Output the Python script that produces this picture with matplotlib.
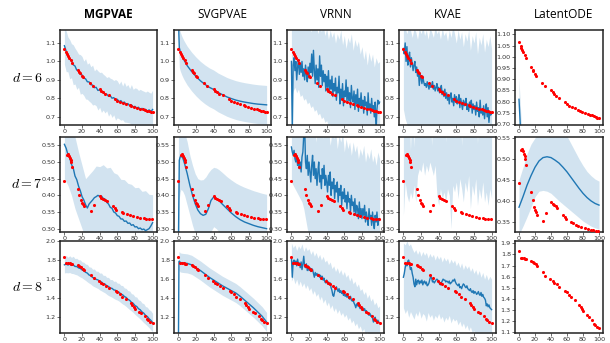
import numpy as np
import matplotlib
matplotlib.use("Agg")
import matplotlib.pyplot as plt

plt.rcParams["mathtext.fontset"] = "cm"

BLUE = "#1f77b4"
METHODS = ["MGPVAE", "SVGPVAE", "VRNN", "KVAE", "LatentODE"]
ROW_LABELS = [r"$d = 6$", r"$d = 7$", r"$d = 8$"]

T1 = np.arange(0, 101)       # dense time grid (noisy models)
T2 = np.arange(0, 101, 2)    # coarse time grid

# ---------------- ground truth (red dots) ----------------
GT6_T = [0, 2, 3, 4, 5, 7, 9, 15, 17, 18, 20, 21, 29, 32, 40, 42, 44, 46, 50,
         57, 60, 63, 66, 70, 74, 76, 79, 82, 86, 89, 91, 94, 96, 98, 100]
GT6_Y = [1.067, 1.05, 1.04, 1.03, 1.02, 1.01, 0.993, 0.954, 0.942, 0.935,
         0.922, 0.916, 0.884, 0.869, 0.851, 0.841, 0.832, 0.826, 0.817,
         0.796, 0.788, 0.782, 0.776, 0.769, 0.762, 0.758, 0.754, 0.750,
         0.745, 0.741, 0.738, 0.734, 0.731, 0.728, 0.725]

GT7_T = [0, 3, 4, 5, 6, 7, 8, 9, 15, 17, 19, 20, 21, 22, 30, 34, 40, 42, 44,
         46, 48, 55, 57, 59, 65, 67, 71, 74, 78, 82, 86, 90, 93, 96, 99]
GT7_Y = [0.443, 0.522, 0.524, 0.518, 0.512, 0.506, 0.500, 0.486, 0.420,
         0.402, 0.386, 0.378, 0.373, 0.367, 0.352, 0.372, 0.397, 0.393,
         0.390, 0.387, 0.384, 0.367, 0.362, 0.356, 0.350, 0.347, 0.343,
         0.340, 0.337, 0.335, 0.333, 0.331, 0.330, 0.329, 0.329]

GT8_T = [0, 2, 4, 6, 8, 9, 15, 17, 19, 21, 22, 30, 33, 39, 42, 44, 47, 50,
         58, 60, 63, 65, 70, 75, 77, 79, 80, 85, 87, 91, 94, 95, 97, 100]
GT8_Y = [1.827, 1.77, 1.766, 1.764, 1.763, 1.76, 1.745, 1.735, 1.725, 1.71,
         1.695, 1.64, 1.61, 1.58, 1.56, 1.545, 1.53, 1.51, 1.475, 1.465,
         1.44, 1.415, 1.39, 1.35, 1.33, 1.31, 1.29, 1.255, 1.24, 1.21,
         1.18, 1.17, 1.15, 1.14]

# ---------------- d = 6 ----------------
MGP6_MEAN = [1.085, 1.055, 1.038, 1.012, 1.004, 0.982, 0.975, 0.953, 0.950, 0.930,
             0.927, 0.909, 0.906, 0.890, 0.889, 0.874, 0.872, 0.858, 0.860, 0.843,
             0.846, 0.833, 0.834, 0.822, 0.823, 0.811, 0.814, 0.801, 0.804, 0.792,
             0.795, 0.783, 0.788, 0.776, 0.780, 0.768, 0.772, 0.760, 0.765, 0.754,
             0.757, 0.748, 0.752, 0.741, 0.746, 0.736, 0.741, 0.730, 0.738, 0.728,
             0.740]
MGP6_STD = [0.100, 0.110, 0.094, 0.106, 0.092, 0.108, 0.097, 0.104, 0.090, 0.107,
            0.100, 0.093, 0.109, 0.095, 0.104, 0.097, 0.108, 0.091, 0.100, 0.106,
            0.094, 0.109, 0.097, 0.101, 0.090, 0.107, 0.095, 0.104, 0.093, 0.110,
            0.100, 0.094, 0.106, 0.091, 0.108, 0.097, 0.103, 0.093, 0.110, 0.095,
            0.100, 0.106, 0.091, 0.108, 0.097, 0.103, 0.093, 0.110, 0.095, 0.100,
            0.104]

SVGP6_T = [0, 0.5, 1, 2, 4, 6, 8, 10, 15, 20, 25, 30, 35, 40, 45, 50, 55, 60,
           65, 70, 75, 80, 85, 90, 95, 100]
SVGP6_MEAN = [1.5, 1.15, 1.075, 1.055, 1.03, 1.01, 0.993, 0.977, 0.945, 0.918,
              0.895, 0.876, 0.86, 0.848, 0.832, 0.82, 0.808, 0.799, 0.791, 0.785,
              0.780, 0.776, 0.772, 0.769, 0.767, 0.765]
SVGP6_STD = [0.105] * 26

VRNN6_MEAN = [1.00, 0.62, 0.98, 1.02, 0.95, 1.00, 0.90, 0.97, 1.01, 0.93,
              0.99, 0.94, 1.00, 0.92, 0.96, 0.90, 0.98, 0.93, 0.89, 0.97,
              0.91, 0.99, 0.94, 1.04, 0.92, 1.06, 0.95, 0.88, 0.98, 0.90,
              0.96, 0.86, 1.03, 0.92, 0.98, 0.87, 0.95, 0.89, 0.93, 0.84,
              0.92, 0.86, 0.95, 0.83, 0.90, 0.85, 0.92, 0.81, 0.88, 0.84,
              0.91, 0.79, 0.86, 0.83, 0.92, 0.77, 0.85, 0.80, 0.88, 0.76,
              0.84, 0.81, 0.90, 0.78, 0.86, 0.79, 0.83, 0.75, 0.87, 0.80,
              0.78, 0.84, 0.74, 0.82, 0.77, 0.85, 0.73, 0.80, 0.76, 0.83,
              0.75, 0.79, 0.72, 0.81, 0.76, 0.78, 0.71, 0.83, 0.74, 0.77,
              0.72, 0.80, 0.73, 0.76, 0.70, 0.78, 0.62, 0.74, 0.79, 0.77,
              0.78]
VRNN6_HI = [1.25, 1.22, 1.24, 1.20, 1.23, 1.19, 1.22, 1.18, 1.21, 1.17,
            1.20, 1.16, 1.19, 1.17, 1.21, 1.15, 1.19, 1.16, 1.20, 1.14,
            1.18, 1.12, 1.17, 1.13, 1.16, 1.10, 1.15, 1.12, 1.17, 1.09,
            1.14, 1.07, 1.13, 1.10, 1.15, 1.06, 1.12, 1.08, 1.11, 1.04,
            1.08, 1.01, 1.06, 0.98, 1.05, 1.00, 1.04, 0.97, 1.02, 0.99,
            1.00]
VRNN6_LO = [0.80, 0.84, 0.86, 0.83, 0.85, 0.81, 0.82, 0.79, 0.80, 0.77,
            0.78, 0.75, 0.76, 0.73, 0.74, 0.71, 0.72, 0.69, 0.70, 0.67,
            0.68, 0.65, 0.66, 0.63, 0.64, 0.62, 0.62, 0.60, 0.61, 0.59,
            0.60, 0.58, 0.59, 0.57, 0.58, 0.56, 0.57, 0.55, 0.56, 0.54,
            0.55, 0.53, 0.54, 0.52, 0.53, 0.51, 0.52, 0.50, 0.51, 0.49,
            0.50]

KVAE6_MEAN = [1.07, 1.04, 1.10, 1.00, 1.08, 0.98, 1.03, 1.05, 0.97, 1.02,
              0.99, 0.95, 0.98, 1.00, 0.94, 0.97, 0.92, 0.95, 0.87, 0.93,
              0.91, 0.88, 0.92, 0.89, 0.87, 0.88, 0.86, 0.89, 0.87, 0.85,
              0.88, 0.86, 0.87, 0.89, 0.85, 0.87, 0.84, 0.86, 0.88, 0.84,
              0.86, 0.83, 0.85, 0.87, 0.82, 0.84, 0.81, 0.85, 0.80, 0.83,
              0.79, 0.82, 0.77, 0.81, 0.83, 0.78, 0.80, 0.76, 0.82, 0.78,
              0.81, 0.77, 0.79, 0.82, 0.75, 0.80, 0.77, 0.74, 0.79, 0.76,
              0.78, 0.80, 0.74, 0.77, 0.73, 0.78, 0.75, 0.79, 0.72, 0.77,
              0.74, 0.76, 0.71, 0.78, 0.73, 0.75, 0.70, 0.79, 0.72, 0.74,
              0.71, 0.76, 0.69, 0.74, 0.77, 0.70, 0.75, 0.67, 0.73, 0.71,
              0.72]
KVAE6_HI = [1.20, 1.18, 1.15, 1.19, 1.17, 1.13, 1.18, 1.16, 1.12, 1.18,
            1.15, 1.19, 1.14, 1.17, 1.12, 1.18, 1.16, 1.13, 1.19, 1.15,
            1.17, 1.12, 1.18, 1.14, 1.16, 1.11, 1.17, 1.13, 1.19, 1.15,
            1.10, 1.17, 1.12, 1.16, 1.08, 1.15, 1.11, 1.17, 1.06, 1.14,
            1.10, 1.16, 1.04, 1.13, 1.09, 1.15, 1.05, 1.12, 1.08, 1.14,
            1.07]
KVAE6_LO = [0.74, 0.69, 0.66, 0.63, 0.62, 0.60, 0.61, 0.59, 0.60, 0.58,
            0.59, 0.57, 0.58, 0.56, 0.57, 0.55, 0.56, 0.54, 0.55, 0.53,
            0.54, 0.52, 0.53, 0.51, 0.52, 0.50, 0.51, 0.49, 0.50, 0.48,
            0.49, 0.47, 0.48, 0.46, 0.47, 0.45, 0.46, 0.44, 0.45, 0.43,
            0.44, 0.42, 0.43, 0.41, 0.42, 0.40, 0.41, 0.39, 0.40, 0.38,
            0.39]

ODE6_T = [0, 1, 2, 3]
ODE6_MEAN = [0.81, 0.74, 0.67, 0.60]
ODE6_HI = [0.905, 0.83, 0.76, 0.69]
ODE6_LO = [0.715, 0.65, 0.58, 0.51]

# ---------------- d = 7 ----------------
MGP7_MEAN = [0.553, 0.541, 0.522, 0.512, 0.493, 0.482, 0.458, 0.447, 0.428, 0.414,
             0.396, 0.386, 0.372, 0.362, 0.374, 0.380, 0.386, 0.393, 0.396, 0.400,
             0.397, 0.398, 0.391, 0.389, 0.379, 0.374, 0.364, 0.361, 0.350, 0.347,
             0.339, 0.337, 0.329, 0.329, 0.322, 0.323, 0.316, 0.317, 0.310, 0.312,
             0.305, 0.306, 0.300, 0.302, 0.297, 0.299, 0.294, 0.297, 0.300, 0.308,
             0.318]
MGP7_BT = list(range(0, 101, 4))
MGP7_HI = [0.66, 0.63, 0.60, 0.575, 0.53, 0.49, 0.45, 0.462, 0.474, 0.488,
           0.486, 0.492, 0.482, 0.484, 0.468, 0.463, 0.448, 0.447, 0.436, 0.433,
           0.423, 0.424, 0.412, 0.414, 0.403, 0.402]
MGP7_LO = [0.45, 0.43, 0.40, 0.36, 0.33, 0.30, 0.27, 0.27, 0.28, 0.29,
           0.29, 0.29, 0.28, 0.27, 0.26, 0.25, 0.24, 0.24, 0.23, 0.22,
           0.22, 0.21, 0.21, 0.20, 0.20, 0.21]

SVGP7_T = [0, 1, 2, 3, 5, 7, 10, 13, 16, 19, 22, 25, 28, 31, 34, 37, 40, 43,
           46, 50, 55, 60, 65, 70, 75, 80, 85, 90, 95, 100]
SVGP7_MEAN = [0.25, 0.505, 0.515, 0.518, 0.512, 0.495, 0.465, 0.43, 0.40, 0.375,
              0.356, 0.345, 0.340, 0.343, 0.360, 0.385, 0.395, 0.391, 0.384, 0.373,
              0.360, 0.347, 0.336, 0.327, 0.320, 0.315, 0.310, 0.306, 0.303, 0.300]
SVGP7_STD = [0.35, 0.115, 0.105, 0.100, 0.100, 0.095, 0.095, 0.090, 0.090, 0.090,
             0.094, 0.101, 0.107, 0.112, 0.108, 0.093, 0.089, 0.091, 0.093, 0.095,
             0.096, 0.099, 0.101, 0.103, 0.104, 0.104, 0.104, 0.104, 0.103, 0.103]

VRNN7_MEAN = [0.545, 0.53, 0.52, 0.535, 0.51, 0.50, 0.52, 0.49, 0.505, 0.48,
              0.50, 0.47, 0.515, 0.53, 0.58, 0.61, 0.50, 0.48, 0.52, 0.46,
              0.50, 0.47, 0.44, 0.49, 0.52, 0.46, 0.50, 0.45, 0.48, 0.43,
              0.47, 0.50, 0.44, 0.46, 0.42, 0.48, 0.45, 0.49, 0.43, 0.46,
              0.44, 0.41, 0.46, 0.43, 0.47, 0.40, 0.44, 0.42, 0.45, 0.39,
              0.43, 0.41, 0.44, 0.38, 0.42, 0.40, 0.43, 0.37, 0.41, 0.39,
              0.42, 0.38, 0.40, 0.36, 0.41, 0.38, 0.39, 0.35, 0.40, 0.37,
              0.38, 0.35, 0.39, 0.34, 0.37, 0.36, 0.33, 0.38, 0.34, 0.36,
              0.33, 0.36, 0.34, 0.37, 0.32, 0.35, 0.33, 0.31, 0.36, 0.33,
              0.34, 0.31, 0.35, 0.32, 0.30, 0.34, 0.32, 0.35, 0.31, 0.33,
              0.325]
VRNN7_HI = [0.64, 0.66, 0.62, 0.65, 0.63, 0.66, 0.64, 0.62, 0.65, 0.63,
            0.61, 0.64, 0.59, 0.63, 0.56, 0.62, 0.60, 0.63, 0.57, 0.61,
            0.58, 0.60, 0.55, 0.59, 0.57, 0.60, 0.54, 0.58, 0.56, 0.59,
            0.53, 0.57, 0.54, 0.56, 0.52, 0.56, 0.53, 0.55, 0.51, 0.54,
            0.52, 0.55, 0.50, 0.53, 0.51, 0.54, 0.50, 0.52, 0.49, 0.53,
            0.51]
VRNN7_LO = [0.44, 0.43, 0.42, 0.41, 0.40, 0.39, 0.38, 0.36, 0.33, 0.30,
            0.28, 0.27, 0.27, 0.26, 0.26, 0.25, 0.25, 0.24, 0.24, 0.23,
            0.23, 0.22, 0.22, 0.21, 0.21, 0.20, 0.20, 0.20, 0.19, 0.19,
            0.19, 0.18, 0.18, 0.18, 0.17, 0.17, 0.17, 0.16, 0.16, 0.16,
            0.15, 0.15, 0.15, 0.15, 0.14, 0.14, 0.14, 0.14, 0.13, 0.13,
            0.13]

# KVAE mean for d=7 lies above the plotted range
KVAE7_MEAN = [0.61, 0.60, 0.62, 0.61, 0.60, 0.62, 0.61, 0.63, 0.60, 0.62,
              0.61, 0.62, 0.60, 0.61, 0.63, 0.62, 0.60, 0.61, 0.62, 0.60,
              0.61, 0.63, 0.62, 0.60, 0.61, 0.62, 0.60, 0.61, 0.63, 0.62,
              0.60, 0.61, 0.62, 0.60, 0.61, 0.63, 0.62, 0.60, 0.61, 0.62,
              0.60, 0.61, 0.63, 0.62, 0.60, 0.61, 0.62, 0.60, 0.61, 0.63,
              0.62]
KVAE7_HI = [0.72, 0.70, 0.68, 0.71, 0.535, 0.69, 0.545, 0.70, 0.68, 0.71,
            0.69, 0.72, 0.70, 0.68, 0.71, 0.69, 0.55, 0.70, 0.72, 0.69,
            0.71, 0.68, 0.70, 0.72, 0.56, 0.69, 0.71, 0.70, 0.68, 0.72,
            0.70, 0.69, 0.71, 0.55, 0.70, 0.68, 0.72, 0.69, 0.71, 0.70,
            0.68, 0.72, 0.555, 0.70, 0.69, 0.71, 0.68, 0.70, 0.72, 0.69,
            0.71]
KVAE7_LO = [0.34, 0.44, 0.40, 0.38, 0.41, 0.39, 0.43, 0.38, 0.46, 0.48,
            0.47, 0.50, 0.46, 0.49, 0.47, 0.50, 0.48, 0.46, 0.49, 0.40,
            0.37, 0.42, 0.39, 0.41, 0.38, 0.42, 0.40, 0.30, 0.43, 0.41,
            0.44, 0.39, 0.45, 0.42, 0.38, 0.44, 0.41, 0.46, 0.36, 0.43,
            0.40, 0.45, 0.37, 0.42, 0.39, 0.44, 0.38, 0.41, 0.37, 0.42,
            0.39]

ODE7_T = [0, 5, 10, 15, 20, 25, 30, 35, 40, 45, 50, 55, 60, 65, 70, 75, 80,
          85, 90, 95, 100]
ODE7_MEAN = [0.385, 0.41, 0.437, 0.46, 0.48, 0.495, 0.503, 0.505, 0.503, 0.497,
             0.49, 0.48, 0.469, 0.456, 0.443, 0.43, 0.418, 0.408, 0.400, 0.394,
             0.390]
ODE7_STD = [0.065, 0.07, 0.075, 0.075, 0.07, 0.072, 0.078, 0.082, 0.085, 0.088,
            0.09, 0.088, 0.085, 0.08, 0.075, 0.07, 0.066, 0.062, 0.06, 0.058,
            0.057]

# ---------------- d = 8 ----------------
MGP8_MEAN = [1.750, 1.758, 1.748, 1.757, 1.744, 1.749, 1.733, 1.732, 1.718, 1.712,
             1.697, 1.688, 1.672, 1.663, 1.643, 1.636, 1.617, 1.613, 1.597, 1.592,
             1.575, 1.571, 1.553, 1.548, 1.530, 1.523, 1.507, 1.503, 1.487, 1.483,
             1.469, 1.463, 1.444, 1.436, 1.418, 1.408, 1.388, 1.378, 1.357, 1.346,
             1.323, 1.313, 1.290, 1.278, 1.256, 1.243, 1.220, 1.208, 1.185, 1.168,
             1.145]
MGP8_STD = [0.085, 0.090, 0.082, 0.088, 0.084, 0.091, 0.083, 0.087, 0.085, 0.090,
            0.084, 0.089, 0.086, 0.092, 0.085, 0.090, 0.087, 0.093, 0.086, 0.091,
            0.088, 0.094, 0.087, 0.092, 0.089, 0.095, 0.088, 0.093, 0.090, 0.096,
            0.089, 0.094, 0.091, 0.097, 0.090, 0.095, 0.092, 0.098, 0.091, 0.096,
            0.093, 0.099, 0.092, 0.097, 0.094, 0.100, 0.093, 0.098, 0.095, 0.100,
            0.096]

SVGP8_T = [0, 0.6, 1, 2, 5, 10, 15, 20, 25, 30, 35, 40, 45, 50, 55, 60, 65, 70,
           75, 80, 85, 90, 95, 100]
SVGP8_MEAN = [0.9, 1.78, 1.79, 1.775, 1.77, 1.765, 1.75, 1.72, 1.69, 1.655,
              1.62, 1.59, 1.56, 1.53, 1.505, 1.48, 1.455, 1.42, 1.38, 1.34,
              1.30, 1.255, 1.21, 1.15]
SVGP8_STD = [0.10] * 24

VRNN8_MEAN = [1.83, 1.62, 1.78, 1.80, 1.76, 1.79, 1.74, 1.81, 1.75, 1.77,
              1.72, 1.78, 1.70, 1.76, 1.84, 1.73, 1.72, 1.76, 1.69, 1.74,
              1.69, 1.72, 1.68, 1.71, 1.70, 1.66, 1.62, 1.67, 1.64, 1.66,
              1.63, 1.65, 1.62, 1.64, 1.60, 1.63, 1.59, 1.61, 1.57, 1.56,
              1.59, 1.55, 1.57, 1.54, 1.56, 1.51, 1.48, 1.43, 1.42, 1.47,
              1.50, 1.52, 1.49, 1.47, 1.50, 1.46, 1.48, 1.45, 1.47, 1.43,
              1.45, 1.42, 1.44, 1.41, 1.43, 1.40, 1.39, 1.42, 1.38, 1.37,
              1.38, 1.35, 1.33, 1.30, 1.34, 1.32, 1.35, 1.31, 1.29, 1.30,
              1.28, 1.30, 1.27, 1.29, 1.26, 1.27, 1.24, 1.25, 1.22, 1.24,
              1.21, 1.22, 1.19, 1.15, 1.18, 1.20, 1.16, 1.14, 1.17, 1.15,
              1.14]
VRNN8_HI = [1.98, 1.93, 1.96, 1.90, 1.95, 1.92, 1.97, 1.89, 1.94, 1.90,
            1.92, 1.86, 1.90, 1.84, 1.88, 1.82, 1.86, 1.80, 1.84, 1.78,
            1.80, 1.75, 1.78, 1.71, 1.74, 1.68, 1.72, 1.66, 1.70, 1.64,
            1.68, 1.62, 1.65, 1.58, 1.62, 1.55, 1.58, 1.52, 1.55, 1.48,
            1.50, 1.44, 1.47, 1.40, 1.44, 1.37, 1.40, 1.33, 1.36, 1.30,
            1.32]
VRNN8_LO = [1.58, 1.62, 1.55, 1.60, 1.53, 1.58, 1.52, 1.56, 1.50, 1.54,
            1.48, 1.51, 1.44, 1.48, 1.42, 1.45, 1.38, 1.42, 1.35, 1.39,
            1.32, 1.36, 1.29, 1.33, 1.26, 1.30, 1.24, 1.28, 1.22, 1.25,
            1.20, 1.23, 1.17, 1.20, 1.14, 1.17, 1.11, 1.14, 1.08, 1.11,
            1.05, 1.08, 1.02, 1.05, 0.99, 1.02, 0.97, 1.00, 0.95, 0.98,
            0.96]

KVAE8_MEAN = [1.62, 1.66, 1.72, 1.76, 1.74, 1.79, 1.80, 1.75, 1.70, 1.72,
              1.66, 1.62, 1.55, 1.52, 1.60, 1.54, 1.58, 1.59, 1.55, 1.58,
              1.56, 1.59, 1.54, 1.57, 1.58, 1.55, 1.57, 1.53, 1.54, 1.56,
              1.60, 1.63, 1.61, 1.57, 1.58, 1.56, 1.575, 1.59, 1.60, 1.59,
              1.57, 1.55, 1.54, 1.56, 1.58, 1.60, 1.59, 1.59, 1.57, 1.58,
              1.575, 1.56, 1.58, 1.55, 1.56, 1.57, 1.59, 1.58, 1.60, 1.57,
              1.55, 1.54, 1.53, 1.55, 1.51, 1.52, 1.50, 1.53, 1.55, 1.54,
              1.52, 1.51, 1.53, 1.50, 1.49, 1.48, 1.50, 1.47, 1.46, 1.48,
              1.45, 1.47, 1.46, 1.44, 1.45, 1.47, 1.44, 1.43, 1.46, 1.42,
              1.44, 1.41, 1.40, 1.38, 1.32, 1.34, 1.31, 1.33, 1.30, 1.29,
              1.28]
KVAE8_HI = [1.98, 1.96, 2.00, 1.95, 1.97, 1.92, 1.88, 1.91, 1.86, 1.90,
            1.84, 1.89, 1.85, 1.88, 1.82, 1.87, 1.83, 1.86, 1.80, 1.85,
            1.81, 1.84, 1.78, 1.83, 1.79, 1.82, 1.76, 1.81, 1.77, 1.80,
            1.74, 1.78, 1.72, 1.77, 1.70, 1.75, 1.71, 1.74, 1.68, 1.72,
            1.66, 1.70, 1.64, 1.69, 1.62, 1.67, 1.60, 1.65, 1.59, 1.63,
            1.60]
KVAE8_LO = [1.30, 1.24, 1.28, 1.20, 1.26, 1.22, 1.18, 1.25, 1.21, 1.27,
            1.19, 1.24, 1.22, 1.16, 1.25, 1.20, 1.23, 1.17, 1.22, 1.19,
            1.24, 1.18, 1.21, 1.15, 1.20, 1.17, 1.22, 1.14, 1.19, 1.16,
            1.18, 1.12, 1.16, 1.10, 1.14, 1.08, 1.12, 1.06, 1.10, 1.04,
            1.06, 1.00, 1.03, 0.98, 1.01, 0.96, 0.99, 0.95, 0.97, 0.94,
            0.95]

# axis limits / ticks per row (cols 1-4 shared, col 5 own)
YLIM = [(0.656, 1.17), (0.29, 0.575), (1.035, 2.0)]
YTICKS = [[0.7, 0.8, 0.9, 1.0, 1.1],
          [0.30, 0.35, 0.40, 0.45, 0.50, 0.55],
          [1.2, 1.4, 1.6, 1.8, 2.0]]
YLIM_ODE = [(0.695, 1.12), (0.326, 0.552), (1.095, 1.92)]
YTICKS_ODE = [[0.70, 0.75, 0.80, 0.85, 0.90, 0.95, 1.00, 1.05, 1.10],
              [0.35, 0.40, 0.45, 0.50, 0.55],
              [1.1, 1.2, 1.3, 1.4, 1.5, 1.6, 1.7, 1.8, 1.9]]


def pm(mean, std, sign):
    return np.asarray(mean) + sign * np.asarray(std)


def build_panels():
    gts = [(GT6_T, GT6_Y), (GT7_T, GT7_Y), (GT8_T, GT8_Y)]
    # each entry: (line_t, line_y, band_t, band_lo, band_hi)
    rows = [
        [
            (T2, MGP6_MEAN, T2, pm(MGP6_MEAN, MGP6_STD, -1), pm(MGP6_MEAN, MGP6_STD, 1)),
            (SVGP6_T, SVGP6_MEAN, SVGP6_T, pm(SVGP6_MEAN, SVGP6_STD, -1), pm(SVGP6_MEAN, SVGP6_STD, 1)),
            (T1, VRNN6_MEAN, T2, VRNN6_LO, VRNN6_HI),
            (T1, KVAE6_MEAN, T2, KVAE6_LO, KVAE6_HI),
            (ODE6_T, ODE6_MEAN, ODE6_T, ODE6_LO, ODE6_HI),
        ],
        [
            (T2, MGP7_MEAN, MGP7_BT, MGP7_LO, MGP7_HI),
            (SVGP7_T, SVGP7_MEAN, SVGP7_T, pm(SVGP7_MEAN, SVGP7_STD, -1), pm(SVGP7_MEAN, SVGP7_STD, 1)),
            (T1, VRNN7_MEAN, T2, VRNN7_LO, VRNN7_HI),
            (T2, KVAE7_MEAN, T2, KVAE7_LO, KVAE7_HI),
            (ODE7_T, ODE7_MEAN, ODE7_T, pm(ODE7_MEAN, ODE7_STD, -1), pm(ODE7_MEAN, ODE7_STD, 1)),
        ],
        [
            (T2, MGP8_MEAN, T2, pm(MGP8_MEAN, MGP8_STD, -1), pm(MGP8_MEAN, MGP8_STD, 1)),
            (SVGP8_T, SVGP8_MEAN, SVGP8_T, pm(SVGP8_MEAN, SVGP8_STD, -1), pm(SVGP8_MEAN, SVGP8_STD, 1)),
            (T1, VRNN8_MEAN, T2, VRNN8_LO, VRNN8_HI),
            (T1, KVAE8_MEAN, T2, KVAE8_LO, KVAE8_HI),
            None,
        ],
    ]
    return gts, rows


def main():
    W, H = 610, 343
    fig = plt.figure(figsize=(W / 100, H / 100), dpi=100)

    col_left = [60, 174, 287, 399, 515]
    col_w = [97, 97, 97, 97, 88]
    row_top = [30, 137, 241]
    row_h = [95, 95, 92]

    gts, rows = build_panels()

    for r, top in enumerate(row_top):
        gt_t, gt_y = gts[r]
        ah = row_h[r]
        for c, left in enumerate(col_left):
            aw = col_w[c]
            ax = fig.add_axes([left / W, 1 - (top + ah) / H, aw / W, ah / H])
            panel = rows[r][c]
            if panel is not None:
                lt, ly, bt, blo, bhi = panel
                ax.fill_between(bt, blo, bhi, color=BLUE, alpha=0.2, lw=0)
                ax.plot(lt, ly, color=BLUE, lw=1.0)
            ax.scatter(gt_t, gt_y, s=5, color="red", lw=0, zorder=3)

            ax.set_xlim(-5, 105)
            ax.set_xticks([0, 20, 40, 60, 80, 100])
            if c == 4:
                ax.set_ylim(*YLIM_ODE[r])
                ax.set_yticks(YTICKS_ODE[r])
            else:
                ax.set_ylim(*YLIM[r])
                ax.set_yticks(YTICKS[r])
            ax.tick_params(labelsize=4.6, length=2, width=0.5,
                           colors="#333", pad=1)
            for s in ax.spines.values():
                s.set_color("#222")
                s.set_linewidth(1.1)

            if r == 0:
                fig.text((left + 97 / 2) / W, 1 - 15 / H, METHODS[c],
                         ha="center", va="center", fontsize=8.5,
                         family="Open Sans",
                         fontweight="bold" if c == 0 else "normal")

        fig.text(43 / W, 1 - (top + ah / 2) / H, ROW_LABELS[r],
                 ha="right", va="center", fontsize=10)

    fig.savefig("out.png", dpi=100)


if __name__ == "__main__":
    main()
